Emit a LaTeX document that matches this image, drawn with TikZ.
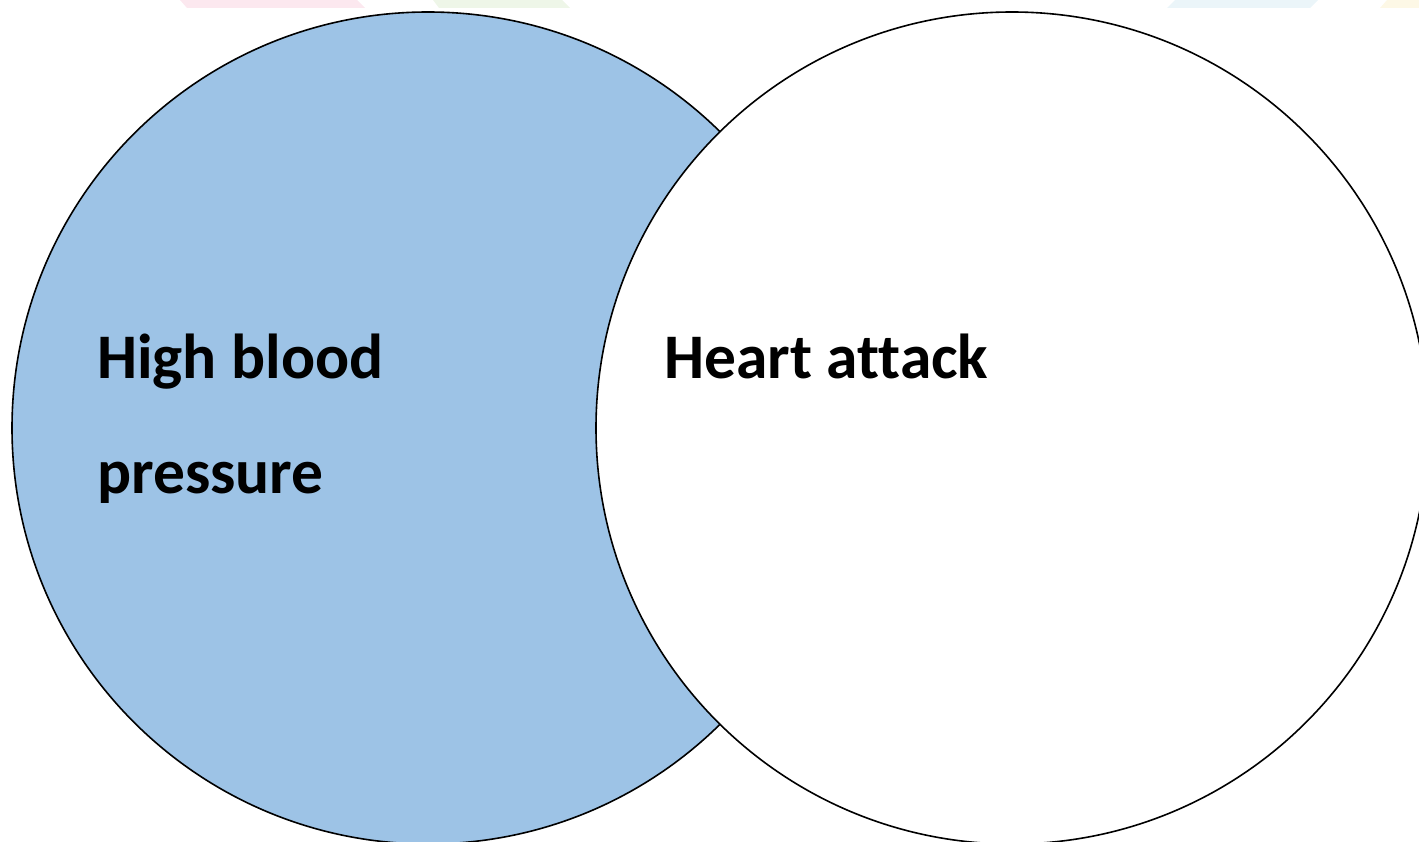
\documentclass[tikz,border=0pt]{standalone}
\usepackage{fontspec}
\setmainfont{Carlito}[Ligatures={NoCommon}]
\definecolor{bpblue}{HTML}{9DC3E6}
\definecolor{tabpink}{HTML}{FCE8EF}
\definecolor{tabgreen}{HTML}{EEF6E8}
\definecolor{tabblue}{HTML}{EBF5F9}
\definecolor{tabyellow}{HTML}{FDF8E6}
\tikzset{vcirc/.style={circle,draw=black,line width=1.6pt,minimum size=832pt,inner sep=0pt},
	lbl/.style={anchor=base west,inner sep=0pt,font=\fontsize{63.5}{76}\selectfont\bfseries}}

\begin{document}
\begin{tikzpicture}[x=1pt,y=-1pt]
	\useasboundingbox (0,0) rectangle (1419,842);
	\fill[tabpink] (180,0) -- (357,0) -- (365,8) -- (187,8) -- cycle;
	\fill[tabgreen] (433,0) -- (562,0) -- (570,8) -- (439,8) -- cycle;
	\fill[tabblue] (1175,0) -- (1318,0) -- (1310,8) -- (1167,8) -- cycle;
	\fill[tabyellow] (1387,0) -- (1419,0) -- (1419,8) -- (1380,8) -- cycle;
	\node[vcirc,fill=bpblue] (bp) at (428,428) {};
	\node[vcirc,fill=white] (ha) at (1012,428) {};
	\node[lbl] (bp1) at (97,378) {High blood};
	\node[lbl] (bp2) at (97,493) {pressure};
	\node[lbl] (ha1) at (664,378) {Heart attack};
\end{tikzpicture}
\end{document}
